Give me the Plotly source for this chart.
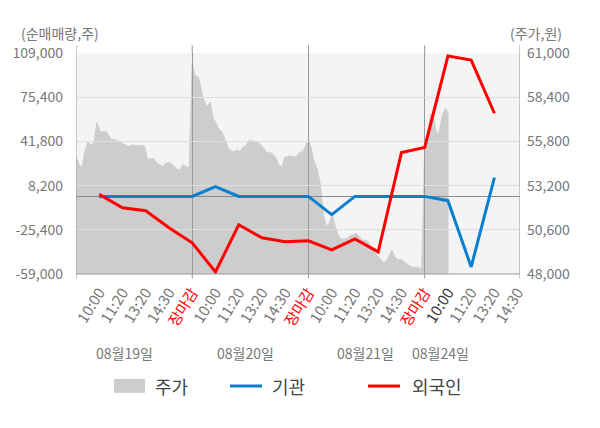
import plotly.graph_objects as go

# 시간 라벨 (하루 5칸), 날짜
TIME_LABELS = ["10:00", "11:20", "13:20", "14:30", "장마감"]
DATES = ["08월19일", "08월20일", "08월21일", "08월24일"]

# 주가 (원) - 하루를 39칸으로 나눈 샘플
PRICE_0819 = [54900, 54450, 54250, 55200, 55750, 55600, 55700, 56900, 56400, 56350,
              56400, 56150, 55900, 55900, 55800, 55700, 55600, 55550, 55500, 55600,
              55550, 55550, 55550, 55500, 54750, 54750, 54800, 54550, 54400, 54300,
              54500, 54550, 54500, 54300, 54150, 54150, 54450, 54300, 54250]
PRICE_0820 = [60350, 59650, 59600, 58900, 58150, 57850, 58100, 57200, 56800, 56500,
              56350, 55900, 55450, 55250, 55200, 55300, 55200, 55450, 55550, 55850,
              55850, 55750, 55750, 55600, 55400, 55150, 55150, 55050, 54850, 54450,
              54250, 54850, 54900, 54950, 54900, 54900, 55150, 55200, 55500]
PRICE_0821 = [55950, 55350, 54550, 54150, 53250, 51500, 50800, 51000, 51500, 50800,
              50300, 50050, 50050, 50100, 50250, 50300, 50400, 50200, 50000, 50000,
              49900, 49600, 49300, 49100, 48900, 48700, 48700, 49100, 49400, 49000,
              48850, 48850, 48750, 48600, 48450, 48400, 48400, 48350, 48300]
PRICE_0824 = [55350, 56400, 57400, 57200, 56200, 56450, 57400, 57750, 57400]
PRICE_BY_DAY = [PRICE_0819, PRICE_0820, PRICE_0821, PRICE_0824]

# 순매매량 (주) - 각 시간 라벨 시점
INST = [0, 0, 0, 0, 0,
        7400, 0, 0, 0, 0,
        -13900, 0, 0, 0, 0,
        -3250, -53650, 14300]
FOREIGN = [1500, -8600, -10900, -23900, -35300,
           -57500, -21600, -31500, -34550, -33800,
           -40700, -32300, -42200, 33400, 37200,
           106700, 103650, 63200]

VOL_TICKS = [-59000, -25400, 8200, 41800, 75400, 109000]
PRICE_TICKS = [48000, 50600, 53200, 55800, 58400, 61000]

FONT = "Noto Sans CJK KR"
GRAY = "#777777"
DAY = 5
X_MAX = 19.1
SAMPLES = 39

# x 위치
price_x, price_y = [], []
for d, vals in enumerate(PRICE_BY_DAY):
    for i, v in enumerate(vals):
        price_x.append(d * DAY + i * DAY / SAMPLES)
        price_y.append(v)

line_x = [d * DAY + k + 1 for d in range(4) for k in range(5)][:len(INST)]

tick_vals, tick_text = [], []
for d in range(4):
    for k, lab in enumerate(TIME_LABELS):
        pos = d * DAY + k + 1
        if pos > 19:
            continue
        if lab == "장마감":
            lab = '<span style="color:#ff0000">장마감</span>'
        elif d == 3 and k == 0:
            lab = '<span style="color:#333333">10:00</span>'
        tick_vals.append(pos)
        tick_text.append(lab)

fig = go.Figure()

# 주가 영역 (x/y 서브플롯)
fig.add_trace(go.Scatter(
    x=price_x, y=price_y, xaxis='x', yaxis='y',
    mode='lines', fill='tozeroy',
    fillcolor='#cdcdcd', line=dict(color='#cdcdcd', width=1),
    hoverinfo='skip', showlegend=False,
))

# 기관 / 외국인 (x2/y2 서브플롯 - 그리드가 주가 위에 그려지도록)
fig.add_trace(go.Scatter(
    x=line_x, y=INST, xaxis='x2', yaxis='y2', mode='lines',
    line=dict(color='#0a7fd0', width=3), name='기관', showlegend=False,
))
fig.add_trace(go.Scatter(
    x=line_x, y=FOREIGN, xaxis='x2', yaxis='y2', mode='lines',
    line=dict(color='#ff0000', width=3), name='외국인', showlegend=False,
))

shapes = [
    # 플롯 배경 (서브플롯이 겹치므로 plot_bgcolor 대신)
    dict(type='rect', xref='paper', yref='paper', x0=0, x1=1, y0=0, y1=1,
         fillcolor='#f4f4f4', line=dict(width=0), layer='below'),
]
# 테두리 (좌/우/하단)
for xv in [0, X_MAX]:
    shapes.append(dict(type='line', xref='x', yref='paper', x0=xv, x1=xv,
                       y0=-0.02, y1=1.035, line=dict(color='#999999', width=1)))
shapes.append(dict(type='line', xref='paper', yref='paper', x0=0, x1=1,
                   y0=0, y1=0, line=dict(color='#999999', width=1)))
# 날짜 구분선 연장
for xv in [5, 10, 15]:
    shapes.append(dict(type='line', xref='x', yref='paper', x0=xv, x1=xv,
                       y0=1.0, y1=1.035, line=dict(color='#999999', width=1)))
    shapes.append(dict(type='line', xref='x', yref='paper', x0=xv, x1=xv,
                       y0=-0.02, y1=0, line=dict(color='#999999', width=1)))

# 범례 (수동)
shapes.append(dict(type='rect', xref='paper', yref='paper', x0=0.0856, x1=0.1554,
                   y0=-0.538, y1=-0.475, fillcolor='#cdcdcd', line=dict(width=0)))
shapes.append(dict(type='line', xref='paper', yref='paper', x0=0.3468, x1=0.4189,
                   y0=-0.507, y1=-0.507, line=dict(color='#0a7fd0', width=3)))
shapes.append(dict(type='line', xref='paper', yref='paper', x0=0.6577, x1=0.7297,
                   y0=-0.507, y1=-0.507, line=dict(color='#ff0000', width=3)))

annotations = [
    dict(text="(순매매량,주)", x=-0.036, y=1.09, xref='paper', yref='paper',
         xanchor='center', yanchor='middle', showarrow=False,
         font=dict(size=14, color=GRAY, family=FONT)),
    dict(text="(주가,원)", x=1.036, y=1.09, xref='paper', yref='paper',
         xanchor='center', yanchor='middle', showarrow=False,
         font=dict(size=14, color=GRAY, family=FONT)),
]
for xv, d in zip([2.1, 7.3, 12.45, 15.7], DATES):
    annotations.append(dict(text=d, x=xv, y=-0.357, xref='x', yref='paper',
                            xanchor='center', yanchor='middle', showarrow=False,
                            font=dict(size=14, color=GRAY, family=FONT)))
for xv, t in zip([0.1734, 0.437, 0.7523], ["주가", "기관", "외국인"]):
    annotations.append(dict(text=t, x=xv, y=-0.507, xref='paper', yref='paper',
                            xanchor='left', yanchor='middle', showarrow=False,
                            font=dict(size=18, color='#444444', family=FONT)))

# 페이지 body 여백(8px)만큼 줄인 크기
fig.update_layout(
    width=592, height=420,
    margin=dict(l=68, r=80, t=45, b=154),
    paper_bgcolor='white', plot_bgcolor='rgba(0,0,0,0)',
    font=dict(family=FONT, color=GRAY, size=14),
    showlegend=False,
    xaxis=dict(domain=[0, 1], anchor='y', range=[0, X_MAX],
               tickvals=tick_vals, ticktext=tick_text, tickangle=-58,
               tickfont=dict(size=15, color=GRAY, family=FONT),
               showgrid=False, zeroline=False, showline=False,
               ticklabelstandoff=6, automargin=False),
    yaxis=dict(domain=[0, 1], anchor='x', side='right', range=[48000, 61000],
               tickvals=PRICE_TICKS, ticktext=[f"{v:,}" for v in PRICE_TICKS],
               tickfont=dict(size=14, color=GRAY, family=FONT),
               showgrid=False, zeroline=False, showline=False,
               ticklabelstandoff=6, automargin=False),
    xaxis2=dict(domain=[0, 1], anchor='y2', range=[0, X_MAX],
                tickvals=[5, 10, 15], showticklabels=False,
                showgrid=True, gridcolor='#999999', gridwidth=1,
                zeroline=False, showline=False, automargin=False),
    yaxis2=dict(domain=[0, 1], anchor='x2', side='left', range=[-59000, 109000],
                tickvals=VOL_TICKS, ticktext=[f"{v:,}" for v in VOL_TICKS],
                tickfont=dict(size=14, color=GRAY, family=FONT),
                showgrid=True, gridcolor='#dedede', gridwidth=1,
                zeroline=True, zerolinecolor='#8c8c8c', zerolinewidth=1,
                showline=False, ticklabelstandoff=12, automargin=False),
    shapes=shapes,
    annotations=annotations,
)

fig.write_html("out.html")
